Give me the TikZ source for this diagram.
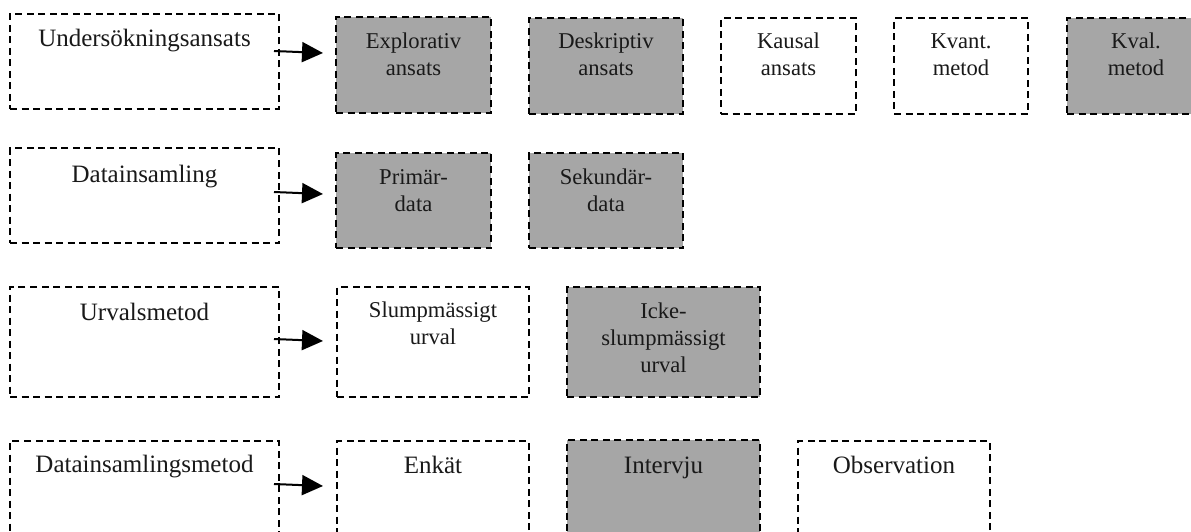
\documentclass[tikz,border=0pt]{standalone}
\usepackage{fontspec}
\setmainfont{Liberation Serif}
\usetikzlibrary{arrows.meta,calc}
\definecolor{boxgray}{HTML}{A6A6A6}
\tikzset{
  boxst/.style={draw=black, line width=1.5pt, dash pattern=on 7pt off 4.5pt, inner sep=0pt, outer sep=0pt, anchor=north west},
  lgtxt/.style={font=\fontsize{25}{28}\selectfont, inner sep=0pt, anchor=base, text=black!90},
  smtxt/.style={font=\fontsize{22.6}{26.8}\selectfont, inner sep=0pt, anchor=base, align=center, text=black!90},
  arr/.style={line width=2pt, -{Triangle[length=21pt,width=20pt]}}
}
\newcommand\mybox[6]{%
  \node[boxst, fill=#6, minimum width={(#4-#2)*1pt}, minimum height={(#5-#3)*1pt}] (#1) at (#2,#3) {};}
\begin{document}
\begin{tikzpicture}[x=1pt,y=-1pt]
\useasboundingbox (0,0) rectangle (1191,532);
\clip (0,0) rectangle (1191,532);
% row 1
\mybox{u}{10}{14}{279}{109}{white}
\mybox{expl}{336}{17}{491}{113}{boxgray}
\mybox{desk}{529}{18}{683}{114}{boxgray}
\mybox{kaus}{721}{18}{856}{114}{white}
\mybox{kvant}{894}{18}{1028}{114}{white}
\mybox{kval}{1067}{18}{1205}{114}{boxgray}
\node[lgtxt] (ut) at (144.5,47) {Undersökningsansats};
\node[smtxt] (explt) at (413.5,75.5) {Explorativ\\ansats};
\node[smtxt] (deskt) at (606,75.5) {Deskriptiv\\ansats};
\node[smtxt] (kaust) at (788.5,75.5) {Kausal\\ansats};
\node[smtxt] (kvantt) at (961,75.5) {Kvant.\\metod};
\node[smtxt] (kvalt) at (1136,75.5) {Kval.\\metod};
% row 2
\mybox{data}{10}{148}{279}{243}{white}
\mybox{prim}{336}{153}{491}{248}{boxgray}
\mybox{sek}{529}{153}{683}{248}{boxgray}
\node[lgtxt] (datat) at (144.5,182) {Datainsamling};
\node[smtxt] (primt) at (413.5,211.5) {Primär-\\data};
\node[smtxt] (sekt) at (606,211.5) {Sekundär-\\data};
% row 3
\mybox{urv}{10}{287}{279}{397}{white}
\mybox{slump}{337}{287}{529}{397}{white}
\mybox{icke}{567}{287}{760}{397}{boxgray}
\node[lgtxt] (urvt) at (144.5,320) {Urvalsmetod};
\node[smtxt] (slumpt) at (433,344) {Slumpmässigt\\urval};
\node[smtxt] (icket) at (663.5,372.5) {Icke-\\slumpmässigt\\urval};
% row 4
\mybox{dm}{10}{441}{279}{545}{white}
\mybox{enk}{337}{441}{529}{545}{white}
\mybox{intv}{567}{440}{760}{545}{boxgray}
\mybox{obs}{798}{441}{990}{545}{white}
\node[lgtxt] (dmt) at (144.5,472) {Datainsamlingsmetod};
\node[lgtxt] (enkt) at (433,473) {Enkät};
\node[lgtxt] (intvt) at (663.5,473) {Intervju};
\node[lgtxt] (obst) at (894,473) {Observation};
% arrows
\coordinate (a1s) at (274,51); \coordinate (a1e) at (323,53);
\coordinate (a2s) at (274,192); \coordinate (a2e) at (323,194);
\coordinate (a3s) at (274,339); \coordinate (a3e) at (323,341);
\coordinate (a4s) at (274,484); \coordinate (a4e) at (323,486);
\draw[arr] (a1s) -- (a1e);
\draw[arr] (a2s) -- (a2e);
\draw[arr] (a3s) -- (a3e);
\draw[arr] (a4s) -- (a4e);
\end{tikzpicture}
\end{document}
